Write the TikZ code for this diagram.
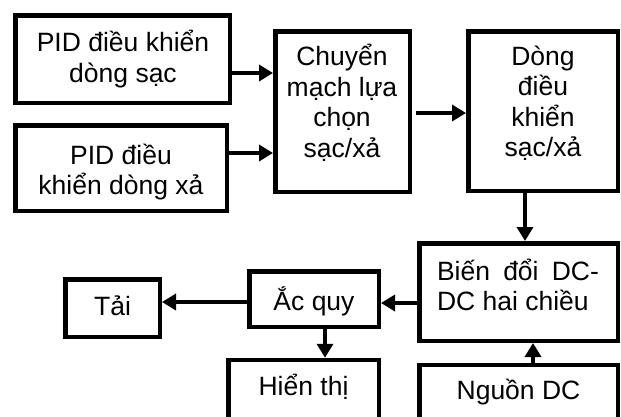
\documentclass[tikz,border=0pt]{standalone}
\usepackage{fontspec}
\setmainfont{Liberation Sans}
\usetikzlibrary{arrows.meta}
\tikzset{
  box/.style={draw, line width=4.5pt, rectangle, inner sep=0pt},
  lbl/.style={align=center, inner sep=0pt, font=\fontsize{26.5}{30.5}\selectfont},
  arr/.style={line width=4.5pt, -{Triangle[length=14pt,width=16pt]}},
}
\begin{document}
\begin{tikzpicture}[x=1pt,y=-1pt]
\useasboundingbox (0,0) rectangle (621,416);
\clip (0,0) rectangle (621,416);
% boxes
\node[box, minimum width=214.5, minimum height=87.5] (b1) at (122.5,59) {};
\node[box, minimum width=211.5, minimum height=85.5] (b2) at (121,168) {};
\node[box, minimum width=134.5, minimum height=160.5] (b3) at (342.5,111.5) {};
\node[box, minimum width=149.5, minimum height=159.5] (b4) at (543,111) {};
\node[box, minimum width=198.5, minimum height=97.5] (b5) at (518.5,292) {};
\node[box, minimum width=129.5, minimum height=55.5] (acq) at (314,299) {};
\node[box, minimum width=94.5, minimum height=57.5] (tai) at (112.5,308) {};
\node[box, minimum width=150.5, minimum height=78] (ht) at (303.5,399) {};
\node[box, minimum width=198.5, minimum height=73] (ng) at (518.5,401.5) {};
% labels
\node[lbl] (b1t) at (123,59) {PID điều khiển\\dòng sạc};
\node[lbl] (b2t) at (121,172) {PID điều\\khiển dòng xả};
\node[lbl] (b3t) at (342,103) {Chuyển\\mạch lựa\\chọn\\sạc/xả};
\node[lbl] (b4t) at (543,103) {Dòng\\điều\\khiển\\sạc/xả};
\node[lbl, text width=162, align=justify] (b5t) at (518,285) {Biến đổi DC-\linebreak DC hai chiều};
\node[lbl] (acqt) at (314,301) {Ắc quy};
\node[lbl] (tait) at (112.5,306) {Tải};
\node[lbl] (htt) at (303.5,387) {Hiển thị};
\node[lbl] (ngt) at (518.5,392) {Nguồn DC};
% connectors
\draw[arr] ([yshift=-14pt]b1.east) -- ([yshift=-14pt]b1.east -| b3.west);
\draw[arr] ([yshift=15pt]b2.east) -- ([yshift=15pt]b2.east -| b3.west);
\draw[arr, shorten <=4pt] ([yshift=-1.5pt]b3.east) -- ([yshift=-1.5pt]b3.east -| b4.west);
\draw[arr] ([xshift=-18pt]b4.south) -- ([xshift=-18pt]b4.south |- b5.north);
\draw[arr] ([yshift=-11pt]b5.west) -- ([yshift=-11pt]b5.west -| acq.east);
\draw[arr] ([yshift=-3pt]acq.west) -- ([yshift=-3pt]acq.west -| tai.east);
\draw[arr] ([xshift=11pt]acq.south) -- ([xshift=11pt]acq.south |- ht.north);
\draw[arr] ([xshift=14.5pt]ng.north) -- ([xshift=14.5pt]ng.north |- b5.south);
\end{tikzpicture}
\end{document}
